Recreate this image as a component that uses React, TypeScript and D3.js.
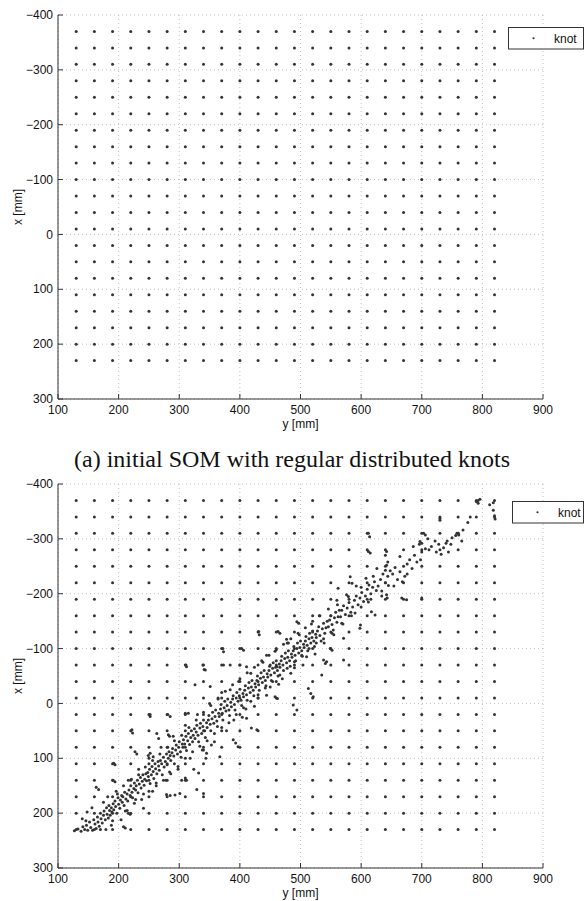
import React from "react";
import * as d3 from "d3";

// ---- data ----
const yTickValues = [100, 200, 300, 400, 500, 600, 700, 800, 900];
const xTickValues = [-400, -300, -200, -100, 0, 100, 200, 300];
const knotColumns = [130, 160, 190, 220, 250, 280, 310, 340, 370, 400, 430, 460, 490, 520, 550, 580, 610, 640, 670, 700, 730, 760, 790, 820];
const knotRows = [-370, -340, -310, -280, -250, -220, -190, -160, -130, -100, -70, -40, -10, 20, 50, 80, 110, 140, 170, 200, 230];

// adapted knots in panel (b): [y, x]
const bandKnots: [number, number][] = [
  [127,232],[133,229],[138,233],[141,225],[144,230],
  [147,222],[149,231],[152,216],[154,226],[157,231],[159,212],[161,220],[163,228],[165,207],[146,214],
  [166,216],[168,224],[170,200],[171,210],[173,218],[175,204],[176,196],[178,212],[180,190],[181,202],[183,209],[185,195],[179,230],[184,186],
  [186,204],[188,190],[189,198],[191,183],[192,194],[194,178],[195,188],[197,200],[199,172],[200,184],[202,191],[203,176],[205,168],[190,214],[198,165],
  [206,180],[207,170],[209,186],[210,162],[212,174],[214,165],[215,178],[217,158],[219,168],[220,150],[222,162],[223,172],[225,155],[211,196],[216,140],
  [226,145],[228,158],[229,150],[231,140],[232,163],[234,147],[236,135],[237,154],[239,142],[240,130],[242,149],[243,138],[245,128],[233,120],[241,165],[228,175],
  [246,141],[248,126],[249,133],[251,120],[252,146],[254,130],[255,115],[257,124],[258,137],[260,110],[261,119],[263,128],[265,106],[250,100],[256,160],[262,145],
  [266,114],[267,122],[269,104],[271,110],[272,130],[274,98],[275,116],[277,106],[279,92],[280,112],[282,100],[283,88],[285,95],[270,80],[278,140],[284,125],
  [286,104],[288,90],[289,82],[291,96],[292,110],[294,85],[295,76],[297,92],[299,80],[300,70],[302,88],[303,98],[305,74],[290,60],[298,120],[304,140],
  [306,80],[307,66],[309,74],[311,60],[312,86],[314,68],[315,55],[317,75],[319,62],[320,50],[322,70],[323,58],[325,46],[310,40],[318,100],[324,120],
  [326,64],[328,52],[329,40],[331,58],[332,70],[334,45],[335,36],[337,55],[339,42],[340,30],[342,50],[343,62],[345,35],[330,20],[338,85],[344,100],
  [346,44],[348,30],[349,22],[351,38],[352,50],[354,28],[355,16],[357,36],[359,24],[360,12],[362,32],[363,42],[365,18],[350,0],[358,70],[364,-10],
  [366,24],[368,10],[369,2],[371,18],[372,30],[374,8],[375,-4],[377,14],[379,4],[380,-8],[382,12],[383,22],[385,-2],[370,-20],[378,50],[384,-25],
  [386,6],[388,-8],[389,-14],[391,2],[392,12],[394,-10],[395,-20],[397,-4],[399,-14],[400,-26],[402,-6],[403,4],[405,-18],[390,30],[398,-40],[404,25],
  [406,-12],[408,-24],[409,-32],[411,-16],[412,-6],[414,-28],[415,-38],[417,-20],[419,-30],[420,-42],[422,-24],[423,-14],[425,-36],[410,10],[418,-55],[424,5],
  [426,-30],[428,-42],[429,-50],[431,-34],[432,-24],[434,-46],[435,-56],[437,-38],[439,-48],[440,-60],[442,-42],[443,-32],[445,-54],[430,-10],[438,-75],[444,-15],
  [446,-48],[448,-60],[449,-68],[451,-52],[452,-42],[454,-64],[455,-74],[457,-56],[459,-66],[460,-78],[462,-60],[463,-50],[465,-72],[450,-30],[458,-95],[464,-35],
  [466,-66],[468,-78],[469,-86],[471,-70],[472,-60],[474,-82],[475,-92],[477,-74],[479,-84],[480,-96],[482,-78],[483,-68],[485,-90],[470,-45],[478,-110],[484,-55],
  [486,-84],[488,-96],[489,-104],[491,-88],[492,-78],[494,-100],[495,-110],[497,-92],[499,-102],[500,-114],[502,-96],[503,-86],[505,-108],[490,-65],[498,-125],[504,-70],
  [506,-102],[508,-114],[509,-122],[511,-106],[512,-96],[514,-118],[515,-128],[517,-110],[519,-120],[520,-132],[522,-114],[523,-104],[525,-126],[510,-85],[518,-145],[524,-90],
  [526,-120],[528,-132],[530,-140],[532,-124],[534,-114],[536,-136],[538,-146],[540,-128],[542,-138],[544,-150],[539,-110],[531,-160],
  [546,-140],[548,-152],[550,-160],[552,-144],[554,-134],[556,-156],[558,-166],[560,-148],[562,-158],[564,-170],[555,-125],[561,-180],
  [566,-158],[568,-170],[571,-178],[574,-162],[577,-174],[580,-184],[583,-166],[570,-145],[579,-195],
  [586,-176],[589,-188],[592,-196],[595,-180],[598,-192],[601,-202],[604,-186],[590,-165],[600,-212],
  [607,-196],[610,-208],[613,-216],[616,-200],[619,-212],[622,-222],[625,-206],[612,-185],[620,-232],
  [628,-214],[632,-226],[636,-236],[640,-220],[644,-232],[648,-242],[634,-205],[645,-215],
  [652,-236],[656,-248],[660,-226],[664,-240],[668,-222],[672,-232],[676,-254],[680,-262],[684,-246],[688,-270],[692,-258],[696,-290],[700,-276],
  [706,-282],[712,-280],[716,-286],[722,-296],[728,-290],[732,-272],[736,-284],[740,-292],[744,-276],[750,-302],[756,-306],[760,-310],
  [768,-316],[776,-330],[790,-368],[796,-372],[812,-362],[818,-366],[820,-342],[821,-336],[818,-352],[742,-296],
];

const fringeKnots: [number, number][] = [
  [140,210],[148,198],[156,190],[170,230],[175,180],[182,170],[188,222],[196,160],[204,212],[208,150],
  [214,195],[221,138],[226,182],[233,130],[238,175],[244,116],[250,160],[256,104],[262,150],[268,92],
  [274,140],[281,80],[286,128],[292,68],[298,115],[304,58],[310,100],[316,44],[322,88],[328,30],
  [334,78],[340,16],[346,68],[352,4],[358,55],[364,-8],[370,44],[376,-22],[382,35],[388,-34],
  [394,20],[400,-45],[406,8],[412,-56],[418,-4],[424,-66],[430,-16],[436,-78],[442,-28],[448,-88],
  [454,-40],[460,-98],[466,-52],[472,-108],[478,-64],[484,-118],[490,-76],[496,-128],[502,-88],[508,-138],
  [514,-100],[520,-150],[526,-110],[532,-160],[538,-118],[546,-172],[552,-128],[560,-188],[568,-146],[576,-198],
  [584,-160],[592,-214],[600,-176],[608,-228],[616,-190],[626,-246],[634,-196],[644,-258],[654,-214],[664,-268],
  [676,-236],[686,-286],[698,-262],[710,-300],[724,-276],[748,-290],[766,-296],[780,-340],
];

const strayKnots: [number, number][] = [
  [252,20],[252,24],[281,20],[285,24],[310,18],[315,18],[263,55],[266,64],[282,57],[284,60],
  [163,153],[167,157],[191,140],[194,143],[222,48],[223,54],[227,88],[230,92],[192,109],[194,112],
  [249,95],[252,91],[257,97],[279,166],[285,168],[293,167],[301,164],[329,157],[340,164],
  [216,200],[219,202],[241,191],[208,225],[211,227],[310,136],[312,140],[332,127],[345,91],
  [339,-70],[341,-62],[343,-61],[311,-70],[312,-67],[372,-100],[373,-94],[403,-100],[406,-97],
  [431,-131],[432,-125],[477,-117],[480,-110],[494,-149],[497,-146],[463,-131],[466,-128],
  [373,-70],[384,-70],[326,-34],[351,-31],[400,-70],[411,-67],[450,-70],[461,-67],[444,-88],
  [458,-12],[462,-9],[488,3],[494,12],[513,-27],[517,-18],[521,-12],[535,-52],[543,-76],
  [389,66],[393,72],[397,79],[419,45],[428,48],[411,27],[367,97],[353,76],[340,85],
  [612,-310],[614,-304],[640,-270],[642,-277],[697,-295],[700,-292],[703,-310],[706,-307],
  [758,-310],[761,-307],[730,-337],[730,-334],[793,-370],[793,-365],[582,-231],[585,-219],
  [562,-210],[640,-243],[642,-252],[612,-277],[615,-274],[667,-192],[675,-189],[642,-198],
  [643,-192],[700,-192],[617,-167],[623,-161],[598,-137],[599,-143],[571,-119],[549,-100],
  [552,-97],[538,-79],[541,-73],[571,-79],
];

const W = 584;
const H = 901;
const left = 58;
const right = 543;
const plotH = 384;
const panels = [
  { top: 15, adapted: false, legendX: 508.5, legendY: 27.5 },
  { top: 484, adapted: true, legendX: 512.5, legendY: 501.5 },
];

const sans = "'Liberation Sans', Arial, Helvetica, sans-serif";
const serif = "'Liberation Serif', 'Times New Roman', serif";
const dotColor = "#333";
const fmt = d3.format("d");
const fs = 12;

function Panel({ top, adapted, legendX, legendY }: { top: number; adapted: boolean; legendX: number; legendY: number }) {
  const sx = d3.scaleLinear().domain([100, 900]).range([left, right]);
  const sy = d3.scaleLinear().domain([-400, 300]).range([top, top + plotH]);
  const bottom = top + plotH;
  const grid: [number, number][] = [];
  knotColumns.forEach((c) => knotRows.forEach((r) => grid.push([c, r])));
  const r = 1.5;
  const moved = adapted ? bandKnots.concat(fringeKnots, strayKnots) : [];
  return (
    <g>
      {yTickValues.map((t) => (
        <line key={"gx" + t} x1={sx(t)} x2={sx(t)} y1={top} y2={bottom} stroke="#b0b0b0" strokeWidth={0.8} strokeDasharray="1,3" />
      ))}
      {xTickValues.map((t) => (
        <line key={"gy" + t} x1={left} x2={right} y1={sy(t)} y2={sy(t)} stroke="#b0b0b0" strokeWidth={0.8} strokeDasharray="1,3" />
      ))}
      {grid.map(([c, rr], i) => (
        <circle key={"k" + i} cx={sx(c)} cy={sy(rr)} r={r} fill={dotColor} />
      ))}
      {moved.map(([c, rr], i) => (
        <circle key={"b" + i} cx={sx(c)} cy={sy(rr)} r={r} fill={dotColor} />
      ))}
      <line x1={left} x2={left} y1={top} y2={bottom} stroke="#333" strokeWidth={1} />
      <line x1={left} x2={right} y1={bottom} y2={bottom} stroke="#333" strokeWidth={1} />
      {xTickValues.map((t) => (
        <g key={"ty" + t}>
          <line x1={left} x2={left + 5} y1={sy(t)} y2={sy(t)} stroke="#333" />
          <text x={left - 5} y={sy(t) + 4.2} textAnchor="end" fontFamily={sans} fontSize={fs} fill="#111">
            {fmt(t)}
          </text>
        </g>
      ))}
      {yTickValues.map((t) => (
        <g key={"tx" + t}>
          <line x1={sx(t)} x2={sx(t)} y1={bottom} y2={bottom - 5} stroke="#333" />
          <text x={sx(t)} y={bottom + 15} textAnchor="middle" fontFamily={sans} fontSize={fs} fill="#111">
            {fmt(t)}
          </text>
        </g>
      ))}
      <text x={(left + right) / 2} y={bottom + 29} textAnchor="middle" fontFamily={sans} fontSize={fs} fill="#111">
        y [mm]
      </text>
      <text transform={`translate(22,${top + plotH / 2}) rotate(-90)`} textAnchor="middle" fontFamily={sans} fontSize={fs} fill="#111">
        x [mm]
      </text>
      <rect x={legendX} y={legendY} width={583.5 - legendX} height={21.5} fill="#fff" stroke="#333" strokeWidth={1} />
      <circle cx={legendX + 25} cy={legendY + 10.75} r={1.1} fill={dotColor} />
      <text x={legendX + 45.5} y={legendY + 15} fontFamily={sans} fontSize={fs} fill="#111">
        knot
      </text>
    </g>
  );
}

export default function App() {
  return (
    <svg width={W} height={H} style={{ position: "absolute", left: 0, top: 0, background: "#fff" }}>
      <rect width={W} height={H} fill="#fff" />
      {panels.map((p, i) => (
        <Panel key={i} {...p} />
      ))}
      <text x={292} y={467} textAnchor="middle" fontFamily={serif} fontSize={24} fill="#111">
        (a) initial SOM with regular distributed knots
      </text>
    </svg>
  );
}
